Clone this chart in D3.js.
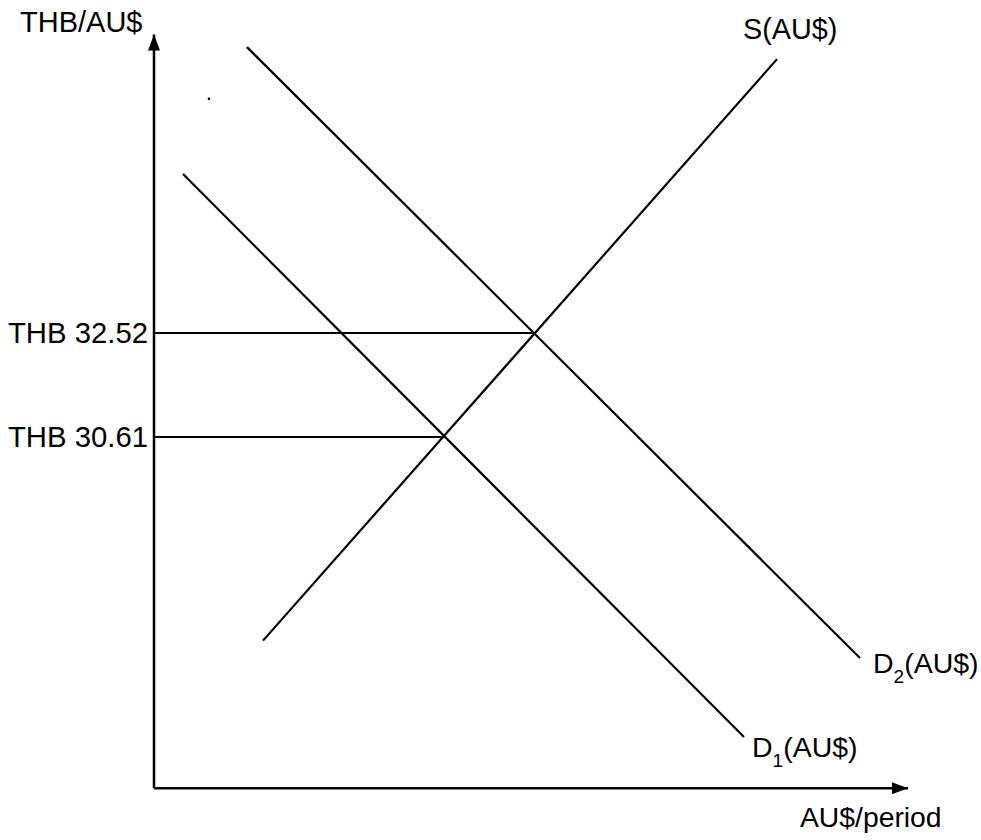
<!DOCTYPE html>
<html>
<head>
<meta charset="utf-8">
<script src="https://cdn.jsdelivr.net/npm/d3@7"></script>
<style>
  body { margin: 0; background: #fff; }
  text { font-family: "Liberation Sans", Arial, Helvetica, sans-serif; fill: #000; }
</style>
</head>
<body>
<div id="chart"></div>
<script>
// equilibrium prices (THB per AU$) and their labels
var priceTicks = [32.52, 30.61];
var tickLabels = ["THB 32.52", "THB 30.61"];
// equilibrium quantities (AU$/period, arbitrary units)
var eqQty = [50.53, 38.33];

// curve end points [quantity, price]
var supply = [[14.46, 26.87], [82.63, 37.55]];
var demand2 = [[12.33, 37.77], [93.63, 26.55]];
var demand1 = [[3.85, 35.44], [78.25, 25.10]];

// axis extents
var qMax = 100;
var pMin = 24.16, pMax = 38.0;
var stray = [7.29, 36.82];

var width = 981, height = 840;

var x = d3.scaleLinear().domain([0, 100]).range([154, 908]);
var y = d3.scaleLinear().domain([30.61, 32.52]).range([437, 333]);

var svg = d3.select("#chart").append("svg").attr("width", width).attr("height", height);

var defs = svg.append("defs");
defs.append("marker").attr("id", "arrow")
    .attr("viewBox", "0 0 16 12").attr("refX", 16).attr("refY", 6)
    .attr("markerWidth", 16).attr("markerHeight", 12)
    .attr("markerUnits", "userSpaceOnUse").attr("orient", "auto")
  .append("path").attr("d", "M0,0 L16,6 L0,12 Z").attr("fill", "#000");

// axes
svg.append("line")
   .attr("x1", x(0)).attr("y1", y(pMin)).attr("x2", x(0)).attr("y2", y(pMax))
   .attr("stroke", "#000").attr("stroke-width", 2.5).attr("marker-end", "url(#arrow)");
svg.append("line")
   .attr("x1", x(0)).attr("y1", y(pMin)).attr("x2", x(qMax)).attr("y2", y(pMin))
   .attr("stroke", "#000").attr("stroke-width", 2.5).attr("marker-end", "url(#arrow)");

// horizontal price lines to the equilibria
svg.selectAll(".eq").data(priceTicks).enter().append("line")
   .attr("class", "eq")
   .attr("x1", x(0)).attr("x2", function(d, i) { return x(eqQty[i]); })
   .attr("y1", function(d) { return y(d); }).attr("y2", function(d) { return y(d); })
   .attr("stroke", "#000").attr("stroke-width", 2);

svg.selectAll(".tick-label").data(priceTicks).enter().append("text")
   .attr("class", "tick-label")
   .attr("x", x(0) - 6).attr("y", function(d) { return y(d) + 10; })
   .attr("text-anchor", "end").attr("font-size", 29.3)
   .text(function(d, i) { return tickLabels[i]; });

// curves
var line = d3.line().x(function(d) { return x(d[0]); }).y(function(d) { return y(d[1]); });
[supply, demand2, demand1].forEach(function(c) {
  svg.append("path").attr("d", line(c)).attr("fill", "none")
     .attr("stroke", "#000").attr("stroke-width", 2.2);
});

svg.append("circle").attr("cx", x(stray[0])).attr("cy", y(stray[1])).attr("r", 1.3).attr("fill", "#000");

// labels
svg.append("text").attr("x", 20).attr("y", 32).attr("font-size", 29).text("THB/AU$");
svg.append("text").attr("x", 743).attr("y", 39).attr("font-size", 28.8).text("S(AU$)");
svg.append("text").attr("x", 800).attr("y", 827).attr("font-size", 28.3).text("AU$/period");

function demandLabel(px, py, sub) {
  var t = svg.append("text").attr("x", px).attr("y", py).attr("font-size", 28.5);
  t.append("tspan").text("D");
  t.append("tspan").attr("font-size", 19).attr("dy", 10).text(sub);
  t.append("tspan").attr("dy", -10).text("(AU$)");
}
demandLabel(873, 673, "2");
demandLabel(752, 757, "1");
</script>
</body>
</html>
